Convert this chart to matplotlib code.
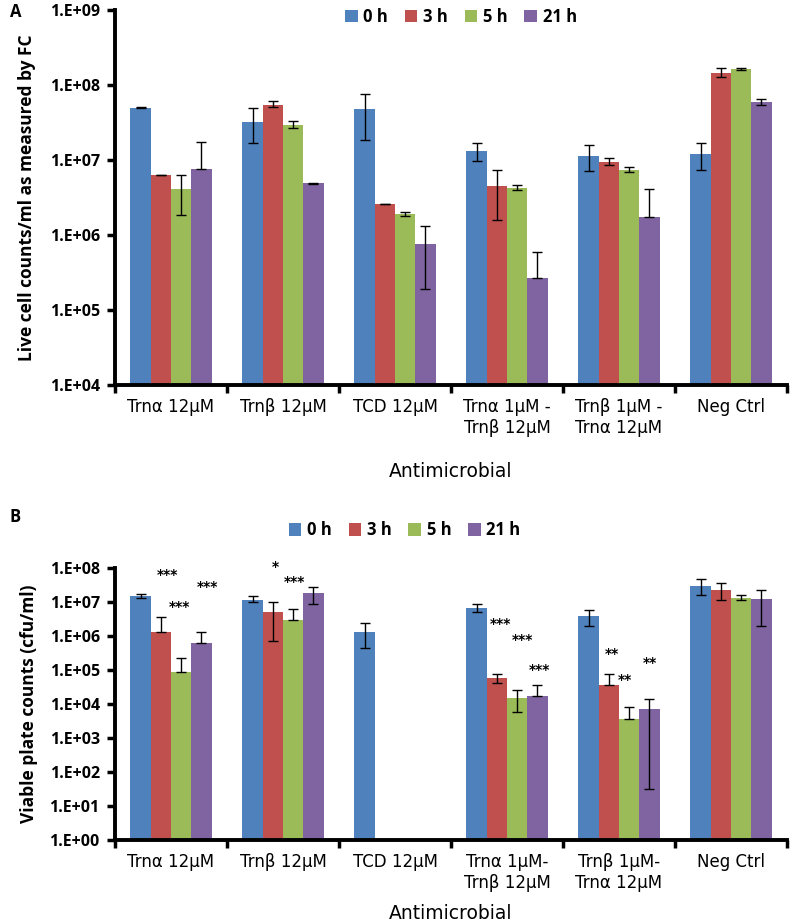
import numpy as np
import matplotlib
matplotlib.use('Agg')
import matplotlib.pyplot as plt
from matplotlib.ticker import FixedLocator, FuncFormatter, NullLocator
from matplotlib.patches import Patch

nan = np.nan

times = ['0 h', '3 h', '5 h', '21 h']
colors = ['#4F81BD', '#C0504D', '#9BBB59', '#8064A2']

# panel A: flow cytometry live counts
cats_a = ['Trnα 12µM', 'Trnβ 12µM', 'TCD 12µM', 'Trnα 1µM -\nTrnβ 12µM',
          'Trnβ 1µM -\nTrnα 12µM', 'Neg Ctrl']
a_0h = [5.0e7, 3.25e7, 4.8e7, 1.33e7, 1.15e7, 1.19e7]
a_0h_lo = [4.95e7, 1.67e7, 1.85e7, 9.8e6, 7.2e6, 7.4e6]
a_0h_hi = [5.05e7, 4.9e7, 7.6e7, 1.7e7, 1.57e7, 1.7e7]
a_3h = [6.3e6, 5.5e7, 2.6e6, 4.5e6, 9.5e6, 1.46e8]
a_3h_lo = [6.25e6, 5.1e7, 2.58e6, 1.6e6, 8.7e6, 1.29e8]
a_3h_hi = [6.4e6, 6.1e7, 2.63e6, 7.4e6, 1.05e7, 1.67e8]
a_5h = [4.1e6, 2.9e7, 1.9e6, 4.3e6, 7.4e6, 1.62e8]
a_5h_lo = [1.85e6, 2.64e7, 1.8e6, 3.95e6, 6.9e6, 1.57e8]
a_5h_hi = [6.3e6, 3.3e7, 2.0e6, 4.65e6, 8.1e6, 1.69e8]
a_21h = [7.7e6, 4.9e6, 7.7e5, 2.65e5, 1.72e6, 6.0e7]
a_21h_lo = [7.7e6, 4.85e6, 1.9e5, 2.65e5, 1.72e6, 5.35e7]
a_21h_hi = [1.75e7, 5.0e6, 1.33e6, 5.9e5, 4.1e6, 6.6e7]

# panel B: viable plate counts
cats_b = ['Trnα 12µM', 'Trnβ 12µM', 'TCD 12µM', 'Trnα 1µM-\nTrnβ 12µM',
          'Trnβ 1µM-\nTrnα 12µM', 'Neg Ctrl']
b_0h = [1.46e7, 1.16e7, 1.35e6, 6.6e6, 4.0e6, 3.0e7]
b_0h_lo = [1.3e7, 9.7e6, 4.5e5, 5.25e6, 2.0e6, 1.63e7]
b_0h_hi = [1.71e7, 1.49e7, 2.4e6, 8.65e6, 6.0e6, 4.7e7]
b_3h = [1.35e6, 5.1e6, nan, 5.9e4, 3.7e4, 2.24e7]
b_3h_lo = [1.35e6, 7.3e5, nan, 4.2e4, 3.7e4, 1.14e7]
b_3h_hi = [3.7e6, 9.7e6, nan, 7.8e4, 7.8e4, 3.5e7]
b_5h = [8.5e4, 3.0e6, nan, 1.52e4, 3.6e3, 1.3e7]
b_5h_lo = [8.5e4, 3.0e6, nan, 5.9e3, 3.6e3, 1.11e7]
b_5h_hi = [2.3e5, 6.4e6, nan, 2.55e4, 8.0e3, 1.56e7]
b_21h = [6.1e5, 1.79e7, nan, 1.74e4, 7.0e3, 1.24e7]
b_21h_lo = [6.1e5, 8.6e6, nan, 1.74e4, 31, 2.0e6]
b_21h_hi = [1.35e6, 2.8e7, nan, 3.6e4, 1.45e4, 2.3e7]

# significance marks in panel B: (x position in category units, y value, text)
stars_b = [(-0.03, 6.3e7, '***'), (0.08, 7.2e6, '***'), (0.33, 2.8e7, '***'),
           (0.93, 1.1e8, '*'), (1.10, 4.0e7, '***'),
           (2.94, 2.3e6, '***'), (3.14, 7.8e5, '***'), (3.29, 1.0e5, '***'),
           (3.94, 2.9e5, '**'), (4.05, 5.0e4, '**'), (4.28, 1.6e5, '**')]

narrow = ['Liberation Sans Narrow', 'DejaVu Sans']
main_font = ['Open Sans', 'DejaVu Sans']
plt.rcParams['font.family'] = main_font

fig = plt.figure(figsize=(7.92, 9.24), dpi=100)
ax_a = fig.add_axes([0.1452, 0.5833, 0.8485, 0.4058])
ax_b = fig.add_axes([0.1452, 0.0909, 0.8485, 0.2944])

bw = 0.181


def draw_panel(ax, cats, series, ylim, ylabel):
    x = np.arange(len(cats))
    for i, (vals, lo, hi) in enumerate(series):
        vals = np.array(vals, dtype=float)
        lo = np.array(lo, dtype=float)
        hi = np.array(hi, dtype=float)
        pos = x + (i - 1.5) * bw
        ax.bar(pos, vals, width=bw, color=colors[i], edgecolor='none',
               zorder=2)
        ax.errorbar(pos, vals, yerr=[vals - lo, hi - vals], fmt='none',
                    ecolor='black', elinewidth=1.0, capsize=3.5,
                    capthick=1.0, zorder=3)
    ax.set_yscale('log')
    ax.set_ylim(*ylim)
    ax.set_xlim(-0.5, len(cats) - 0.5)
    decs = range(int(np.log10(ylim[0])), int(np.log10(ylim[1])) + 1)
    ax.yaxis.set_major_locator(FixedLocator([10.0 ** d for d in decs]))
    ax.yaxis.set_minor_locator(NullLocator())
    ax.yaxis.set_major_formatter(FuncFormatter(
        lambda v, p: '1.E+%02d' % int(round(np.log10(v)))))
    ax.set_xticks(x)
    ax.set_xticklabels(cats, fontsize=12, family=narrow, linespacing=1.25)
    ax.set_xticks(np.arange(len(cats) + 1) - 0.5, minor=True)
    ax.tick_params(axis='x', which='major', length=0, pad=9)
    ax.tick_params(axis='x', which='minor', length=6, width=2.5,
                   direction='out')
    ax.tick_params(axis='y', which='major', length=6, width=2.5,
                   direction='out', labelsize=11.5, pad=5)
    for lab in ax.get_yticklabels():
        lab.set_fontweight('bold')
    for s in ['top', 'right']:
        ax.spines[s].set_visible(False)
    for s in ['left', 'bottom']:
        ax.spines[s].set_linewidth(2.8)
    ax.set_ylabel(ylabel, fontsize=12.5, fontweight='bold')
    ax.set_xlabel('Antimicrobial', fontsize=13.5, family=narrow)


draw_panel(ax_a, cats_a,
           [(a_0h, a_0h_lo, a_0h_hi), (a_3h, a_3h_lo, a_3h_hi),
            (a_5h, a_5h_lo, a_5h_hi), (a_21h, a_21h_lo, a_21h_hi)],
           (1e4, 1e9), 'Live cell counts/ml as measured by FC')
draw_panel(ax_b, cats_b,
           [(b_0h, b_0h_lo, b_0h_hi), (b_3h, b_3h_lo, b_3h_hi),
            (b_5h, b_5h_lo, b_5h_hi), (b_21h, b_21h_lo, b_21h_hi)],
           (1e0, 1e8), 'Viable plate counts (cfu/ml)')

ax_a.yaxis.set_label_coords(-0.118, 0.5)
ax_b.yaxis.set_label_coords(-0.114, 0.5)
ax_a.xaxis.set_label_coords(0.5, -0.204)
ax_b.xaxis.set_label_coords(0.5, -0.236)

for xs, ys, txt in stars_b:
    ax_b.text(xs, ys, txt, ha='center', va='center', fontsize=10,
              fontweight='bold', family=['DejaVu Sans'])

handles = [Patch(facecolor=c, edgecolor='none') for c in colors]
leg_kw = dict(ncol=4, frameon=False, handlelength=0.75, handleheight=0.75,
              handletextpad=0.35, columnspacing=1.0,
              prop={'size': 12, 'weight': 'bold'})
fig.legend(handles, times, loc='center', bbox_to_anchor=(0.582, 0.982),
           **leg_kw)
fig.legend(handles, times, loc='center', bbox_to_anchor=(0.511, 0.426),
           **leg_kw)

fig.text(0.012, 0.987, 'A', fontsize=12, fontweight='bold', va='center')
fig.text(0.012, 0.44, 'B', fontsize=12, fontweight='bold', va='center')

fig.savefig('out.png', dpi=100)
